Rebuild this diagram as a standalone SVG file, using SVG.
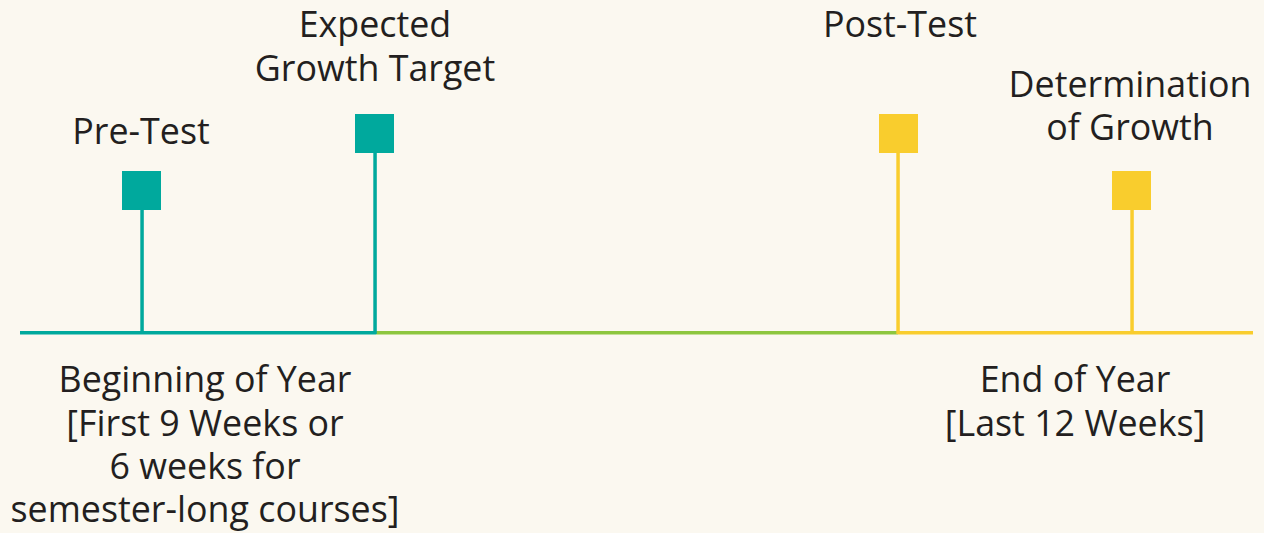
<svg xmlns="http://www.w3.org/2000/svg" width="1264" height="533" viewBox="0 0 1264 533">
<style>
.t{font-family:"Open Sans","Noto Sans",sans-serif;font-size:35.8px;fill:#231f20;text-anchor:middle}
.teal{fill:#00a99d}
.yel{fill:#f9cd2d}
</style>
<rect width="1264" height="533" fill="#fbf8f0"/>
<g id="connectors">
<rect x="20" y="331" width="356" height="3.5" class="teal"/>
<rect x="376" y="331" width="522" height="3.5" fill="#8dc63f"/>
<rect x="898" y="331" width="355" height="3.5" class="yel"/>
<rect x="140.3" y="205" width="3.5" height="129" class="teal"/>
<rect x="373.3" y="150" width="3.5" height="184" class="teal"/>
<rect x="896.3" y="150" width="3.5" height="184" class="yel"/>
<rect x="1130.3" y="205" width="3.5" height="129" class="yel"/>
</g>
<g id="pretest">
<rect x="122" y="171" width="39" height="39" class="teal"/>
<text class="t" x="141" y="144">Pre-Test</text>
</g>
<g id="expected">
<rect x="355" y="114" width="39" height="39" class="teal"/>
<text class="t" x="375" y="37">Expected</text>
<text class="t" x="375" y="81">Growth Target</text>
</g>
<g id="posttest">
<rect x="879" y="114" width="39" height="39" class="yel"/>
<text class="t" x="900" y="37">Post-Test</text>
</g>
<g id="determination">
<rect x="1112" y="171" width="39" height="39" class="yel"/>
<text class="t" x="1130" y="97">Determination</text>
<text class="t" x="1130" y="140">of Growth</text>
</g>
<g id="beginning">
<text class="t" x="205" y="392">Beginning of Year</text>
<text class="t" x="205" y="436">[First 9 Weeks or</text>
<text class="t" x="205" y="479">6 weeks for</text>
<text class="t" x="205" y="522">semester-long courses]</text>
</g>
<g id="end">
<text class="t" x="1075" y="392">End of Year</text>
<text class="t" x="1075" y="436">[Last 12 Weeks]</text>
</g>
</svg>
